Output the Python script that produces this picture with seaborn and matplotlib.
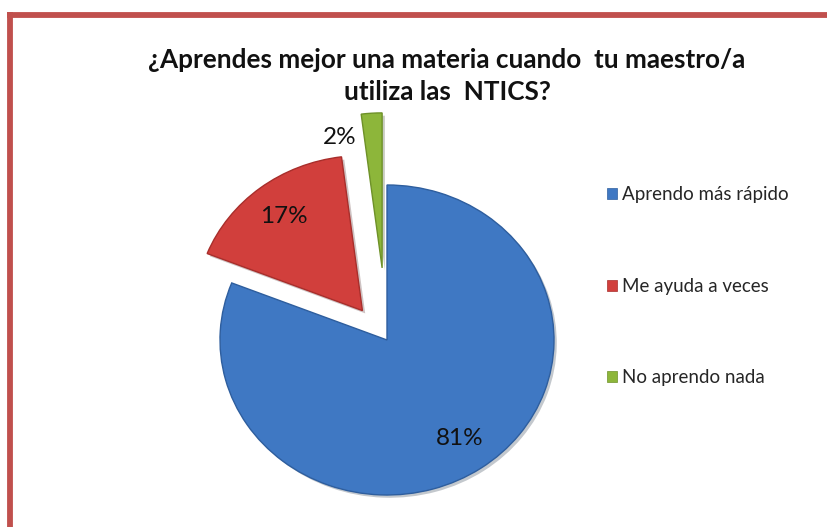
import matplotlib
matplotlib.use("Agg")
import numpy as np
import matplotlib.pyplot as plt
import seaborn as sns
from matplotlib import patheffects as pe
from matplotlib.lines import Line2D

# ---- data ----
categories = ["Aprendo más rápido", "Me ayuda a veces", "No aprendo nada"]
values = [81, 17, 2]
title_text = "¿Aprendes mejor una materia cuando  tu maestro/a\nutiliza las  NTICS?"

colors = ["#3F78C3", "#D13F3C", "#8DB63A"]
edge_colors = ["#2E5E9E", "#A82E2B", "#6E9128"]
explode = [0.0, 0.24, 0.466]

sns.set_theme(style="white")
plt.rcParams['font.family'] = ['Lato', 'DejaVu Sans']

W, H = 827, 527
fig = plt.figure(figsize=(W / 100, H / 100), dpi=100)
fig.patch.set_facecolor("white")

# pie centre ~ (387, 340) px, rx ~167, ry ~155
cx, cy, rx, ry = 387, 340, 167, 155
x0, x1, y0, y1 = -1.3, 1.3, -1.2, 1.6
left = (cx + x0 * rx) / W
width = (x1 - x0) * rx / W
bottom = (H - (cy - y0 * ry)) / H
height = (y1 - y0) * ry / H
ax = fig.add_axes([left, bottom, width, height])

wedges, texts, autotexts = ax.pie(
    values, explode=explode, colors=colors, startangle=90, counterclock=False,
    autopct=lambda p: f"{p:.0f}%", pctdistance=0.77,
    textprops=dict(fontsize=17.5, color="#111111"),
    wedgeprops=dict(linewidth=1.0),
)
for w, ec in zip(wedges, edge_colors):
    w.set_edgecolor(ec)
    w.set_path_effects([pe.SimplePatchShadow(offset=(2, -2), alpha=0.25), pe.Normal()])

ax.set_xlim(x0, x1)
ax.set_ylim(y0, y1)
ax.set_aspect("auto")
ax.axis("off")

# move the small-slice label outside, to the left of the thin wedge
g = wedges[2]
mid = np.deg2rad((g.theta1 + g.theta2) / 2)
gx, gy = g.center
autotexts[2].set_position((gx + 0.84 * np.cos(mid) - 0.1, gy + 0.84 * np.sin(mid)))
autotexts[2].set_ha("right")

# title
fig.text(447 / W, 1 - 48 / H, title_text, ha="center", va="top",
         fontsize=18.8, fontweight="bold", color="#111111", linespacing=1.42)

# legend
leg = fig.legend(wedges, categories, loc="upper left",
                 bbox_to_anchor=(598 / W, 1 - 177 / H), frameon=False,
                 fontsize=13.5, labelspacing=3.97, handlelength=0.5,
                 handleheight=0.5, handletextpad=0.3, borderpad=0)
for h in leg.legend_handles:
    h.set_path_effects([])
    h.set_linewidth(0.5)

# red frame (top and left)
fig.add_artist(Line2D([7 / W, 1.0], [1 - 14.5 / H, 1 - 14.5 / H],
                      transform=fig.transFigure, color="#C0504D", lw=4.2,
                      solid_capstyle="butt"))
fig.add_artist(Line2D([10 / W, 10 / W], [1 - 12 / H, 0.0],
                      transform=fig.transFigure, color="#C0504D", lw=4.2,
                      solid_capstyle="butt"))

fig.savefig("out.png", dpi=100, facecolor="white")
